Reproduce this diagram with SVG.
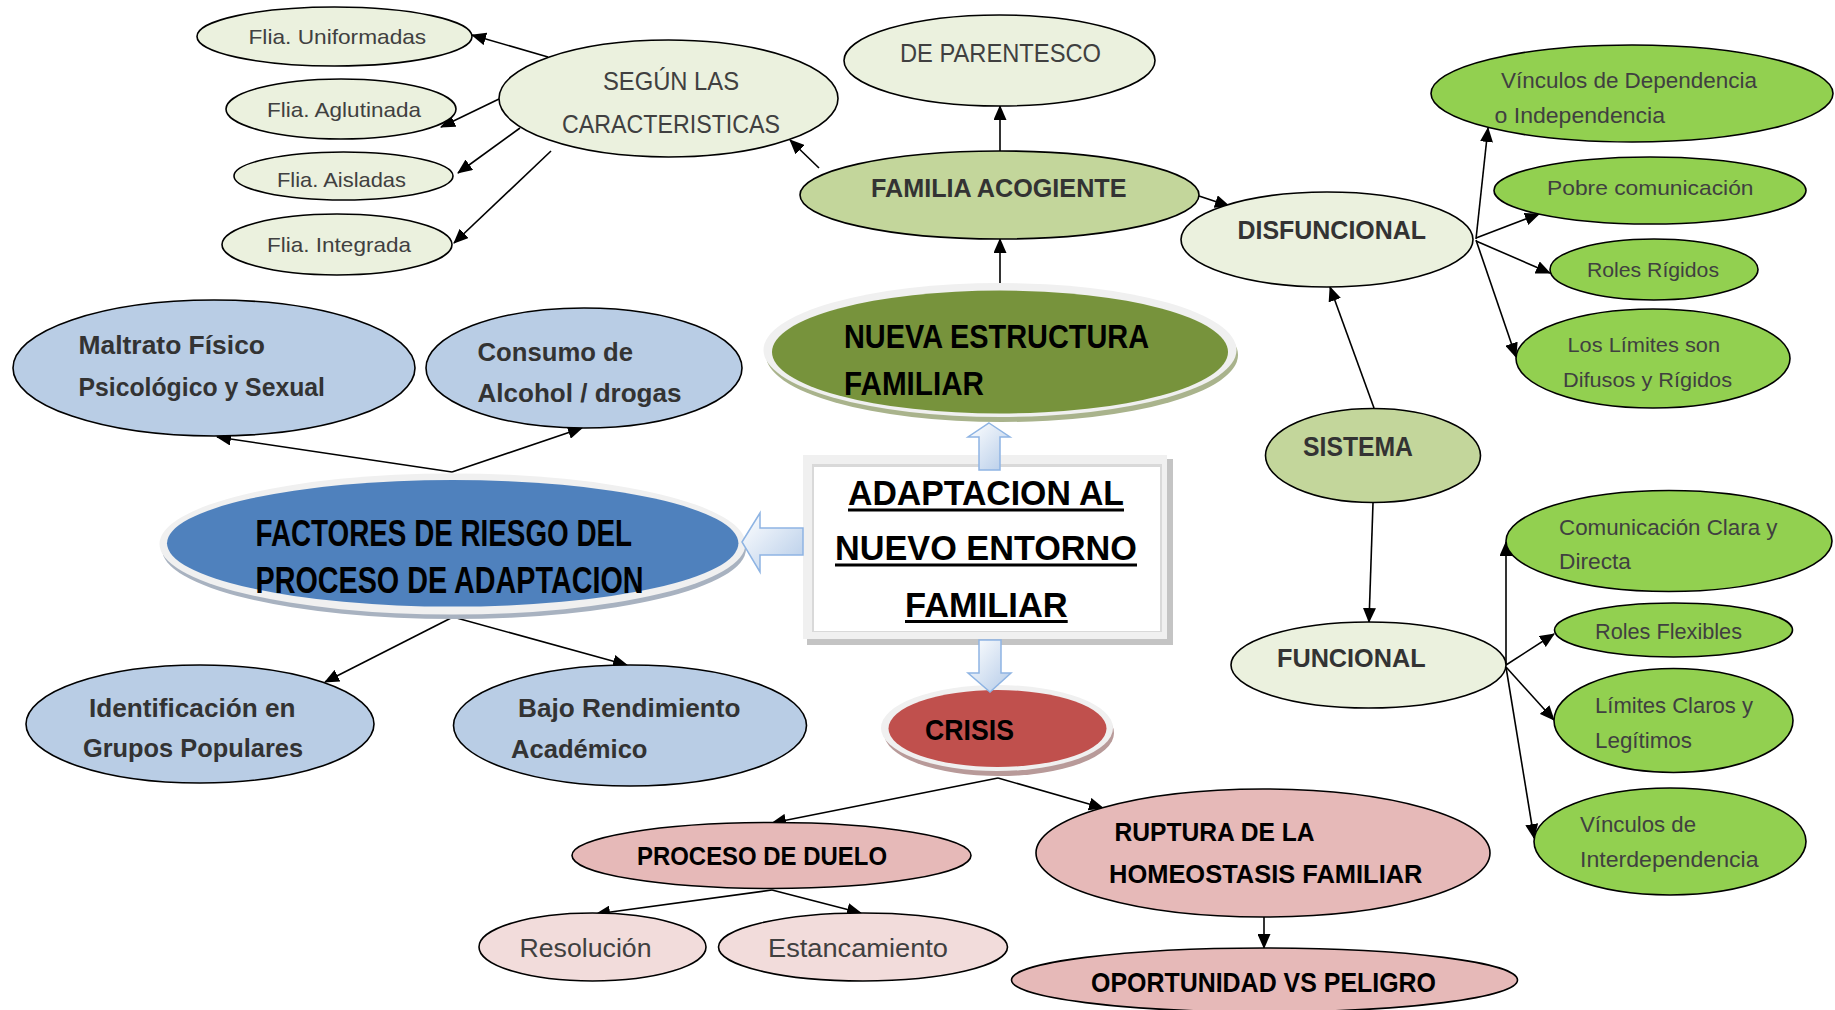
<svg xmlns="http://www.w3.org/2000/svg" width="1835" height="1010" viewBox="0 0 1835 1010">
<defs>
<style>
text{font-family:"Liberation Sans Narrow","Liberation Sans",Arial,sans-serif;}
.n{stroke:#000;stroke-width:1.6;}
.lg{fill:#ebf1de;}
.og{fill:#c3d69b;}
.bg{fill:#92d050;}
.lb{fill:#b9cde5;}
.pk{fill:#e6b9b8;}
.lp{fill:#f2dcdb;}
.r{fill:#404040;}
.b{font-weight:bold;fill:#333;}
.k{font-weight:bold;fill:#000;}
.c{fill:none;stroke:#000;stroke-width:1.6;marker-end:url(#ah);}
.ba{fill:url(#bag);stroke:#8eb4e3;stroke-width:1.5;}
</style>
<marker id="ah" markerWidth="15" markerHeight="13" refX="14" refY="6.5" orient="auto" markerUnits="userSpaceOnUse">
<path d="M0,0 L15,6.5 L0,13 z" fill="#000"/>
</marker>
<linearGradient id="bag" x1="0" y1="0" x2="1" y2="1">
<stop offset="0" stop-color="#ffffff"/>
<stop offset="1" stop-color="#b4cbe8"/>
</linearGradient>
</defs>
<rect width="1835" height="1010" fill="#fff"/>

<g id="connectors">
<line class="c" x1="548" y1="57" x2="472" y2="35"/>
<line class="c" x1="499" y1="99" x2="441" y2="127"/>
<line class="c" x1="520" y1="128" x2="458" y2="173"/>
<line class="c" x1="551" y1="151" x2="454" y2="243"/>
<line class="c" x1="819" y1="168" x2="790" y2="140"/>
<line class="c" x1="1000" y1="151" x2="1000" y2="106"/>
<line class="c" x1="1000" y1="283" x2="1000" y2="239"/>
<line class="c" x1="1199" y1="196" x2="1229" y2="206"/>
<line class="c" x1="1476" y1="239" x2="1488" y2="128"/>
<line class="c" x1="1476" y1="238" x2="1539" y2="214"/>
<line class="c" x1="1476" y1="241" x2="1550" y2="273"/>
<line class="c" x1="1476" y1="240" x2="1516" y2="357"/>
<line class="c" x1="1374" y1="408" x2="1330" y2="287"/>
<line class="c" x1="1373" y1="503" x2="1369" y2="622"/>
<line class="c" x1="1506" y1="665" x2="1506" y2="542"/>
<line class="c" x1="1506" y1="665" x2="1554" y2="634"/>
<line class="c" x1="1506" y1="667" x2="1554" y2="720"/>
<line class="c" x1="1506" y1="667" x2="1534" y2="838"/>
<line class="c" x1="452" y1="472" x2="217" y2="437"/>
<line class="c" x1="452" y1="472" x2="582" y2="428"/>
<line class="c" x1="453" y1="617" x2="325" y2="682"/>
<line class="c" x1="453" y1="617" x2="627" y2="665"/>
<line class="c" x1="998" y1="778" x2="772" y2="823"/>
<line class="c" x1="998" y1="778" x2="1103" y2="808"/>
<line class="c" x1="772" y1="890" x2="596" y2="914"/>
<line class="c" x1="772" y1="890" x2="861" y2="913"/>
<line class="c" x1="1264" y1="917" x2="1264" y2="948"/>
</g>

<g id="n-uniformadas"><ellipse class="n lg" cx="334.5" cy="36.5" rx="137.5" ry="29.5"/><text class="r" x="248.5" y="44" font-size="21" textLength="177.7" lengthAdjust="spacingAndGlyphs">Flia. Uniformadas</text></g>
<g id="n-aglutinada"><ellipse class="n lg" cx="341" cy="109" rx="115" ry="30"/><text class="r" x="267" y="116.7" font-size="21" textLength="154" lengthAdjust="spacingAndGlyphs">Flia. Aglutinada</text></g>
<g id="n-aisladas"><ellipse class="n lg" cx="343.5" cy="176" rx="109.5" ry="24"/><text class="r" x="277" y="186.7" font-size="21" textLength="129" lengthAdjust="spacingAndGlyphs">Flia. Aisladas</text></g>
<g id="n-integrada"><ellipse class="n lg" cx="337" cy="244.5" rx="115" ry="30.5"/><text class="r" x="267" y="251.7" font-size="21" textLength="144" lengthAdjust="spacingAndGlyphs">Flia. Integrada</text></g>
<g id="n-segun"><ellipse class="n lg" cx="668.5" cy="98.5" rx="169.5" ry="58.5"/><text class="r" x="603" y="90" font-size="26" textLength="136" lengthAdjust="spacingAndGlyphs">SEGÚN LAS</text><text class="r" x="562" y="133" font-size="26" textLength="218" lengthAdjust="spacingAndGlyphs">CARACTERISTICAS</text></g>
<g id="n-parentesco"><ellipse class="n lg" cx="999.5" cy="60.5" rx="155.5" ry="45.5"/><text class="r" x="900" y="61.5" font-size="26" textLength="201" lengthAdjust="spacingAndGlyphs">DE PARENTESCO</text></g>
<g id="n-acogiente"><ellipse class="n og" cx="999.5" cy="195" rx="199.5" ry="44"/><text class="b" x="871" y="197" font-size="25.5" textLength="255.5" lengthAdjust="spacingAndGlyphs">FAMILIA ACOGIENTE</text></g>
<g id="n-disfuncional"><ellipse class="n lg" cx="1327" cy="239.5" rx="146" ry="47.5"/><text class="b" x="1237.5" y="239" font-size="26" textLength="188.5" lengthAdjust="spacingAndGlyphs">DISFUNCIONAL</text></g>
<g id="n-vinculos-dep"><ellipse class="n bg" cx="1632" cy="93.5" rx="201" ry="48.5"/><text class="r" x="1501" y="87.5" font-size="21.5" textLength="256" lengthAdjust="spacingAndGlyphs">Vínculos de Dependencia</text><text class="r" x="1494.5" y="122.7" font-size="21.5" textLength="170.5" lengthAdjust="spacingAndGlyphs">o Independencia</text></g>
<g id="n-pobre"><ellipse class="n bg" cx="1650" cy="190.5" rx="156" ry="33.5"/><text class="r" x="1547" y="195" font-size="21" textLength="206.5" lengthAdjust="spacingAndGlyphs">Pobre comunicación</text></g>
<g id="n-roles-rigidos"><ellipse class="n bg" cx="1654" cy="269.5" rx="104" ry="30.5"/><text class="r" x="1587" y="276.7" font-size="21" textLength="132" lengthAdjust="spacingAndGlyphs">Roles Rígidos</text></g>
<g id="n-limites-difusos"><ellipse class="n bg" cx="1653" cy="358.5" rx="137" ry="49.5"/><text class="r" x="1567.5" y="352.3" font-size="21" textLength="152.5" lengthAdjust="spacingAndGlyphs">Los Límites son</text><text class="r" x="1563" y="386.7" font-size="21" textLength="169" lengthAdjust="spacingAndGlyphs">Difusos y Rígidos</text></g>
<g id="n-sistema"><ellipse class="n og" cx="1373" cy="455.5" rx="107.5" ry="47"/><text class="b" x="1303" y="456" font-size="27" textLength="110" lengthAdjust="spacingAndGlyphs">SISTEMA</text></g>
<g id="n-comunicacion"><ellipse class="n bg" cx="1669" cy="541" rx="163" ry="50.5"/><text class="r" x="1559" y="535" font-size="22.5" textLength="218.5" lengthAdjust="spacingAndGlyphs">Comunicación Clara y</text><text class="r" x="1559" y="569.3" font-size="22.5" textLength="72" lengthAdjust="spacingAndGlyphs">Directa</text></g>
<g id="n-roles-flexibles"><ellipse class="n bg" cx="1673.5" cy="630" rx="119" ry="27"/><text class="r" x="1595" y="639" font-size="22" textLength="147" lengthAdjust="spacingAndGlyphs">Roles Flexibles</text></g>
<g id="n-limites-claros"><ellipse class="n bg" cx="1673.5" cy="720.5" rx="119.5" ry="52"/><text class="r" x="1595" y="713.3" font-size="22" textLength="158" lengthAdjust="spacingAndGlyphs">Límites Claros y</text><text class="r" x="1595" y="748.3" font-size="22" textLength="97" lengthAdjust="spacingAndGlyphs">Legítimos</text></g>
<g id="n-vinculos-inter"><ellipse class="n bg" cx="1670" cy="841.5" rx="136" ry="53.5"/><text class="r" x="1580" y="832.3" font-size="22" textLength="116" lengthAdjust="spacingAndGlyphs">Vínculos de</text><text class="r" x="1580" y="867.3" font-size="22" textLength="178.5" lengthAdjust="spacingAndGlyphs">Interdependencia</text></g>
<g id="n-funcional"><ellipse class="n lg" cx="1368.5" cy="665" rx="137.5" ry="43"/><text class="b" x="1277" y="667.3" font-size="25" textLength="148.6" lengthAdjust="spacingAndGlyphs">FUNCIONAL</text></g>

<g id="n-nueva">
<ellipse cx="1002" cy="355" rx="236" ry="67" fill="#a9b38c"/>
<ellipse cx="1000" cy="350" rx="236.5" ry="67" fill="#f0f0f0"/>
<ellipse cx="1000" cy="352" rx="228" ry="61.5" fill="#77933c"/>
<text class="k" x="844" y="348" font-size="33.5" textLength="305" lengthAdjust="spacingAndGlyphs">NUEVA ESTRUCTURA</text>
<text class="k" x="844" y="395" font-size="33.5" textLength="140" lengthAdjust="spacingAndGlyphs">FAMILIAR</text>
</g>

<g id="n-adaptacion">
<rect x="807" y="459" width="366" height="186" fill="#c4c4c4"/>
<rect x="803" y="455" width="364" height="184" fill="#f0f0f0"/>
<rect x="812" y="464" width="350" height="168" fill="#d9d9d9"/>
<rect x="814" y="467" width="346" height="164" fill="#fff"/>
<text class="k" x="848" y="505" font-size="35" textLength="276" lengthAdjust="spacingAndGlyphs">ADAPTACION AL</text>
<rect x="848" y="508.5" width="276" height="3" fill="#000"/>
<text class="k" x="835" y="560" font-size="35" textLength="302" lengthAdjust="spacingAndGlyphs">NUEVO ENTORNO</text>
<rect x="835" y="563.5" width="302" height="3" fill="#000"/>
<text class="k" x="905" y="616.7" font-size="35" textLength="162.7" lengthAdjust="spacingAndGlyphs">FAMILIAR</text>
<rect x="905" y="620" width="162.7" height="3" fill="#000"/>
</g>

<g id="n-factores">
<ellipse cx="454" cy="549" rx="292" ry="70" fill="#a8b2c0"/>
<ellipse cx="452.5" cy="544" rx="293" ry="70.5" fill="#f0f0f0"/>
<ellipse cx="452.7" cy="543.3" rx="285.7" ry="63.3" fill="#4f81bd"/>
<text class="k" x="255.5" y="546" font-size="36" textLength="376.5" lengthAdjust="spacingAndGlyphs">FACTORES DE RIESGO DEL</text>
<text class="k" x="255.5" y="592.7" font-size="36" textLength="388" lengthAdjust="spacingAndGlyphs">PROCESO DE ADAPTACION</text>
</g>

<g id="n-maltrato"><ellipse class="n lb" cx="214" cy="368" rx="201" ry="68"/><text class="b" x="78.5" y="354" font-size="26.5" textLength="186.5" lengthAdjust="spacingAndGlyphs">Maltrato Físico</text><text class="b" x="78.5" y="395.7" font-size="26.5" textLength="246.5" lengthAdjust="spacingAndGlyphs">Psicológico y Sexual</text></g>
<g id="n-consumo"><ellipse class="n lb" cx="584" cy="368" rx="158" ry="60"/><text class="b" x="477.5" y="360.7" font-size="25.5" textLength="155.5" lengthAdjust="spacingAndGlyphs">Consumo de</text><text class="b" x="477.5" y="402.3" font-size="25.5" textLength="204" lengthAdjust="spacingAndGlyphs">Alcohol / drogas</text></g>
<g id="n-identificacion"><ellipse class="n lb" cx="200" cy="724" rx="174" ry="59"/><text class="b" x="89" y="716.7" font-size="26" textLength="206.6" lengthAdjust="spacingAndGlyphs">Identificación en</text><text class="b" x="83" y="757.3" font-size="26" textLength="220" lengthAdjust="spacingAndGlyphs">Grupos Populares</text></g>
<g id="n-bajo"><ellipse class="n lb" cx="630" cy="725.5" rx="176.5" ry="60.5"/><text class="b" x="518" y="716.7" font-size="26" textLength="222.5" lengthAdjust="spacingAndGlyphs">Bajo Rendimiento</text><text class="b" x="511" y="758.3" font-size="26" textLength="136.5" lengthAdjust="spacingAndGlyphs">Académico</text></g>

<g id="n-crisis">
<ellipse cx="999" cy="733" rx="115" ry="43" fill="#b89a99"/>
<ellipse cx="997" cy="728" rx="116" ry="43" fill="#f0f0f0"/>
<ellipse cx="997.5" cy="728.5" rx="109" ry="38.5" fill="#c0504d"/>
<text class="k" x="925" y="740" font-size="30" textLength="89" lengthAdjust="spacingAndGlyphs">CRISIS</text>
</g>

<g id="n-duelo"><ellipse class="n pk" cx="771.5" cy="855.5" rx="199.5" ry="33"/><text class="k" x="637" y="865" font-size="25.5" textLength="250" lengthAdjust="spacingAndGlyphs">PROCESO DE DUELO</text></g>
<g id="n-resolucion"><ellipse class="n lp" cx="592.5" cy="947" rx="113.5" ry="34"/><text class="r" x="519.5" y="957.3" font-size="25" textLength="132" lengthAdjust="spacingAndGlyphs">Resolución</text></g>
<g id="n-estancamiento"><ellipse class="n lp" cx="863" cy="947" rx="144.5" ry="34"/><text class="r" x="768" y="957.3" font-size="25" textLength="180" lengthAdjust="spacingAndGlyphs">Estancamiento</text></g>
<g id="n-ruptura"><ellipse class="n pk" cx="1263" cy="853" rx="227" ry="64"/><text class="k" x="1114.5" y="840.7" font-size="25" textLength="200" lengthAdjust="spacingAndGlyphs">RUPTURA DE LA</text><text class="k" x="1109" y="882.7" font-size="25" textLength="313.5" lengthAdjust="spacingAndGlyphs">HOMEOSTASIS FAMILIAR</text></g>
<g id="n-oportunidad"><ellipse class="n pk" cx="1264.5" cy="980" rx="253" ry="32"/><text class="k" x="1091" y="991.7" font-size="28" textLength="345" lengthAdjust="spacingAndGlyphs">OPORTUNIDAD VS PELIGRO</text></g>

<g id="block-arrows">
<path class="ba" d="M989,423 L1010,437 L1000,437 L1000,470 L979,470 L979,437 L968,437 Z"/>
<path class="ba" d="M742,542 L760,513 L760,528 L803,528 L803,555 L760,555 L760,572 Z"/>
<path class="ba" d="M979,640 L1001,640 L1001,673 L1011,673 L990,692 L968,673 L979,673 Z"/>
</g>
</svg>
